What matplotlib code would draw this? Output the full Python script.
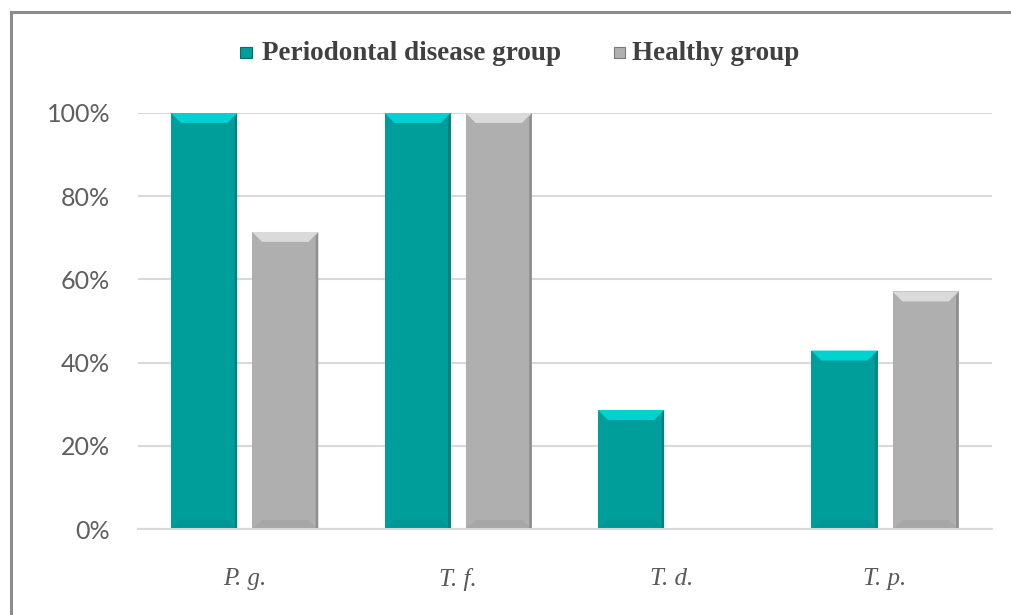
import matplotlib.pyplot as plt
from matplotlib.patches import Polygon
from matplotlib.lines import Line2D
import numpy as np

# Data (share of samples positive)
species = ['P. g.', 'T. f.', 'T. d.', 'T. p.']
periodontal = [100.0, 100.0, 28.6, 42.9]
healthy = [71.4, 100.0, 0.0, 57.1]
y_ticks = [0, 20, 40, 60, 80, 100]

teal = '#009e9a'
teal_top = '#00d2d2'
teal_dark = '#006e6b'
grey = '#afafaf'
grey_top = '#dadada'
grey_dark = '#7a7a7a'


def add_bevel(ax, bars, top_col, side_col):
    '''Draw a lighter top bevel and darker right edge on each bar.'''
    for b in bars:
        h = b.get_height()
        if h <= 0:
            continue
        x0 = b.get_x()
        w = b.get_width()
        x1 = x0 + w
        dx = w * 0.15
        dy = 2.4
        top = Polygon([(x0, h), (x1, h), (x1 - dx, h - dy), (x0 + dx, h - dy)],
                      closed=True, facecolor=top_col, edgecolor='none', zorder=4)
        ax.add_patch(top)
        side = Polygon([(x1 - w * 0.04, h - dy * 0.4), (x1, h), (x1, 0),
                        (x1 - w * 0.04, 0)],
                       closed=True, facecolor=side_col, edgecolor='none',
                       alpha=0.6, zorder=4)
        ax.add_patch(side)
        bot = Polygon([(x0, 0), (x1, 0), (x1 - dx, dy * 0.9), (x0 + dx, dy * 0.9)],
                      closed=True, facecolor=side_col, edgecolor='none',
                      alpha=0.15, zorder=4)
        ax.add_patch(bot)


fig = plt.figure(figsize=(10.12, 6.15), dpi=100)
ax = fig.add_axes([0.1364, 0.1398, 0.8436, 0.6765])

x = np.arange(len(species))
w = 0.31
b1 = ax.bar(x - 0.19, periodontal, w, color=teal, zorder=3)
b2 = ax.bar(x + 0.19, healthy, w, color=grey, zorder=3)
add_bevel(ax, b1, teal_top, teal_dark)
add_bevel(ax, b2, grey_top, grey_dark)

ax.set_xlim(-0.5, 3.5)
ax.set_ylim(0, 100)
ax.set_yticks(y_ticks)
ax.set_yticklabels([f'{t}%' for t in y_ticks], fontfamily='Lato',
                   fontsize=18, color='#5f5f5f')
ax.yaxis.grid(True, color='#d9d9d9', linewidth=1.5, zorder=0)
ax.set_axisbelow(True)
ax.set_xticks(x)
ax.set_xticklabels(species, fontfamily='Liberation Serif', style='italic',
                   fontsize=18, color='#595959')
ax.tick_params(axis='both', length=0)
ax.tick_params(axis='y', pad=20)
ax.tick_params(axis='x', pad=28)
for s in ['top', 'right', 'left']:
    ax.spines[s].set_visible(False)
ax.spines['bottom'].set_color('#d9d9d9')
ax.spines['bottom'].set_linewidth(1.5)
ax.spines['bottom'].set_zorder(5)

# legend boxes and labels
fig.patches.append(plt.Rectangle((0.2372, 0.905), 0.0115, 0.019,
                                 transform=fig.transFigure, facecolor=teal,
                                 edgecolor=teal_dark, linewidth=0.8))
fig.text(0.259, 0.913, 'Periodontal disease group', fontfamily='Liberation Serif',
         fontweight='bold', fontsize=19.5, color='#404040', va='center')
fig.patches.append(plt.Rectangle((0.6065, 0.905), 0.0115, 0.019,
                                 transform=fig.transFigure, facecolor=grey,
                                 edgecolor=grey_dark, linewidth=0.8))
fig.text(0.6245, 0.913, 'Healthy group', fontfamily='Liberation Serif',
         fontweight='bold', fontsize=19.5, color='#404040', va='center')

# frame on left and top edges
fig.lines.append(Line2D([0.0105, 0.0105], [0.0, 0.981], transform=fig.transFigure,
                        color='#8c8c8c', linewidth=2.2))
fig.lines.append(Line2D([0.0105, 1.0], [0.981, 0.981], transform=fig.transFigure,
                        color='#8c8c8c', linewidth=2.2))

plt.savefig('out.png', dpi=100)
